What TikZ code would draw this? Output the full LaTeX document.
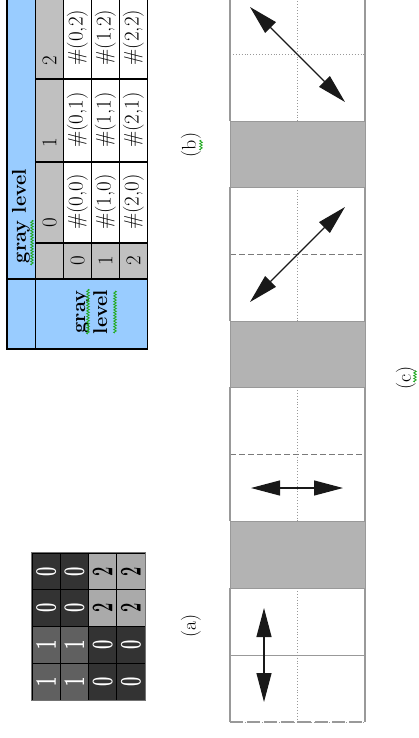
\documentclass[tikz,border=0pt]{standalone}
\usetikzlibrary{arrows.meta,decorations.pathmorphing}
\definecolor{tblue}{HTML}{99CCFF}
\definecolor{hgray}{HTML}{C0C0C0}
\definecolor{dk}{HTML}{333333}
\definecolor{md}{HTML}{606060}
\definecolor{lt}{HTML}{AAAAAA}
\definecolor{band}{HTML}{B3B3B3}
\definecolor{pline}{HTML}{999999}
\definecolor{squig}{HTML}{22AA22}
\newcommand\mdig[1]{\scalebox{0.55}[1]{\fontsize{30}{30}\selectfont\bfseries #1}}
\begin{document}
\begin{tikzpicture}[x=1pt,y=-1pt,
  rt/.style={rotate=90, inner sep=0pt},
  mcell/.style={rectangle, rotate=90, draw=black, line width=0.8pt,
    minimum width=36.75pt, minimum height=28.25pt, inner sep=0pt},
  tline/.style={draw=black, line width=1.1pt},
  dtxt/.style={rt, font=\fontsize{21}{21}\selectfont},
  htxt/.style={rt, font=\fontsize{20}{22}\selectfont\bfseries, align=center},
  lbl/.style={rt, font=\fontsize{20}{20}\selectfont},
  squiggle/.style={draw=squig, line width=0.8pt, decorate,
    decoration={zigzag, amplitude=1.3pt, segment length=2.8pt}},
  sideline/.style={draw=pline, line width=1.3pt},
  dotline/.style={draw=pline, line width=0.9pt, dotted},
  dashline/.style={draw=pline!80!black, line width=0.9pt, dash pattern=on 6pt off 3pt},
  solidmid/.style={draw=pline, line width=1pt},
  dbl/.style={{Triangle[length=29pt,width=15pt]}-{Triangle[length=29pt,width=15pt]},
    line width=1.2pt, draw=black!90}]
\path[use as bounding box] (0,0) rectangle (418,738);
\clip (0,0) rectangle (418,738);

% ---------- (a) image matrix ----------
\foreach \c/\r/\v/\f/\t in {0/0/0/dk/white, 0/1/0/dk/white, 0/2/1/md/white, 0/3/1/md/white,
                            1/0/0/dk/white, 1/1/0/dk/white, 1/2/1/md/white, 1/3/1/md/white,
                            2/0/2/lt/black, 2/1/2/lt/black, 2/2/0/dk/white, 2/3/0/dk/white,
                            3/0/2/lt/black, 3/1/2/lt/black, 3/2/0/dk/white, 3/3/0/dk/white}
  \node[mcell, fill=\f, text=\t] (m\c\r) at ({32+28.25*(\c+0.5)},{553+36.75*(\r+0.5)}) {\mdig{\v}};
\draw[draw=black!55, line width=1pt] (m00.north east) rectangle (m33.south west);
\node[lbl] (la) at (191,626) {(a)};

% ---------- (b) table ----------
\fill[tblue] (7,-4) rectangle (35.5,349);
\fill[tblue] (35.5,279) rectangle (147.5,349);
\fill[hgray] (35.5,-4) rectangle (63.5,279);
\fill[hgray] (63.5,243) rectangle (147.5,279);
\fill[white] (63.5,-4) rectangle (147.5,243);
\draw[tline] (35.5,-4) -- (35.5,349);
\draw[tline] (7,279) -- (147.5,279);
\foreach \xx in {63.5,91.5,119.5} \draw[tline] (\xx,-4) -- (\xx,279);
\foreach \yy in {79,162,243} \draw[tline] (35.5,\yy) -- (147.5,\yy);
\draw[draw=black, line width=1.5pt] (7,-4) rectangle (147.5,349);

\node[htxt] (hdr) at (21,216) {gray level};
\node[htxt] (side) at (91.5,312) {gray\\level};
\node[dtxt] (c0) at (49.5,223) {0};
\node[dtxt] (c1) at (49.5,143) {1};
\node[dtxt] (c2) at (49.5,61) {2};
\node[dtxt] (r0) at (77.5,261) {0};
\node[dtxt] (r1) at (105.5,261) {1};
\node[dtxt] (r2) at (133.5,261) {2};
\foreach \i/\xx in {0/77.5,1/105.5,2/133.5}
  \foreach \j/\yy in {0/202,1/120,2/37.5}
    \node[dtxt] (d\i\j) at (\xx,\yy) {\#(\i,\j)};
\node[lbl] (lb) at (191,145) {(b)};

\draw[squiggle] (32,265) -- (32,220);
\draw[squiggle] (88,334) -- (88,289);
\draw[squiggle] (115,333) -- (115,291);
\draw[squiggle] (201,150) -- (201,140);

% ---------- (c) panels ----------
\foreach \ya/\yb in {121/187, 321/387, 521/588}
  \filldraw[fill=band, draw=pline, line width=0.8pt] (230,\ya) rectangle (365,\yb);
\foreach \t/\m in {-13/dotline, 187/dashline, 387/dashline, 588/solidmid} {
  \draw[dotline] (297.5,\t) -- (297.5,\t+134);
  \draw[\m] (230,\t+67) -- (365,\t+67);
  \draw[dotline] (230,\t) -- (365,\t);
  \draw[dotline] (230,\t+134) -- (365,\t+134);
  \draw[sideline] (230,\t) -- (230,\t+134);
  \draw[sideline] (365,\t) -- (365,\t+134);
}
\draw[draw=pline, line width=1.3pt, dash pattern=on 13pt off 4pt] (230,722) -- (365,722);

\coordinate (a1s) at (264,608);
\coordinate (a1e) at (264,702);
\coordinate (a2s) at (251,488);
\coordinate (a2e) at (343,488);
\coordinate (a3s) at (250,302);
\coordinate (a3e) at (345,207);
\coordinate (a4s) at (250,7);
\coordinate (a4e) at (345,102);
\draw[dbl] (a1s) -- (a1e);
\draw[dbl] (a2s) -- (a2e);
\draw[dbl] (a3s) -- (a3e);
\draw[dbl] (a4s) -- (a4e);

\node[lbl] (lc) at (406,378) {(c)};
\draw[squiggle] (415,382) -- (415,370);
\end{tikzpicture}
\end{document}
